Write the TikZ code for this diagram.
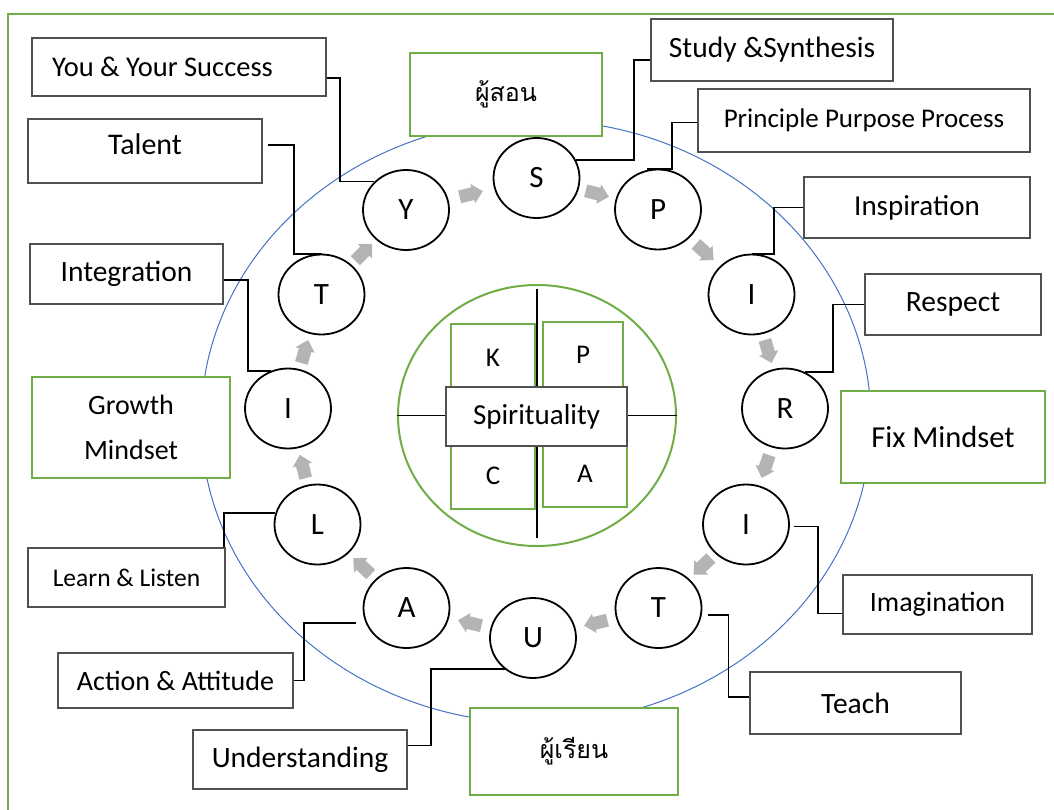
\documentclass[tikz,border=0pt]{standalone}
\usepackage{fontspec}
\setmainfont{Carlito}
\newfontfamily\thaifont[Script=Thai]{Loma}
\usetikzlibrary{shapes.geometric}
\definecolor{grn}{HTML}{70AD47}
\definecolor{blu}{HTML}{4472C4}
\definecolor{bord}{HTML}{505050}
\definecolor{arr}{HTML}{B4B4B4}
\begin{document}
\begin{tikzpicture}[x=1pt,y=-1pt,
  lbl/.style={draw=bord, line width=1.5pt, fill=white, font=\fontsize{29}{34}\selectfont, inner sep=0pt},
  gbox/.style={draw=grn, line width=2pt, fill=white, font=\fontsize{29}{34}\selectfont, inner sep=0pt},
  letter/.style={ellipse, draw=black, line width=1.8pt, minimum width=86pt, minimum height=80pt, inner sep=0pt, fill=white, font=\fontsize{31}{34}\selectfont},
  conn/.style={draw=black, line width=1.8pt},
  garr/.pic={\fill[arr] (-12pt,-6.5pt) -- (1.5pt,-6.5pt) -- (1.5pt,-10pt) -- (12pt,0pt) -- (1.5pt,10pt) -- (1.5pt,6.5pt) -- (-12pt,6.5pt) -- cycle;},
  flow/.style={pos=0.5, sloped, allow upside down},
]
\useasboundingbox (0,0) rectangle (1054,809);
\clip (0,0) rectangle (1054,809);
\draw[grn, line width=2pt] (8,13.5) rectangle (1064,819);

% big blue ellipse
\draw[blu, line width=1pt] (536,421.5) ellipse [x radius=335pt, y radius=301.5pt];

% role boxes
\node[gbox, minimum width=192pt, minimum height=83pt, font=\fontsize{25}{30}\selectfont] (tchr) at (506,94.5) {\thaifont ผู้สอน};
\node[gbox, minimum width=208pt, minimum height=87pt, font=\fontsize{25}{30}\selectfont] (lrnr) at (574,751.5) {\thaifont ผู้เรียน};
\node[gbox, minimum width=198pt, minimum height=101pt, align=center, font=\fontsize{28}{45}\selectfont] (gm) at (131,427.5) {Growth\\Mindset};
\node[gbox, minimum width=204pt, minimum height=92pt, font=\fontsize{30.5}{34}\selectfont] (fm) at (943,437) {Fix Mindset};

% label boxes
\node[lbl, minimum width=294pt, minimum height=58pt, text width=254pt, inner xsep=20pt, align=flush left, font=\fontsize{28.5}{34}\selectfont] (yy) at (179,67) {You \& Your Success};
\node[lbl, minimum width=234pt, inner ysep=0pt, text height=35pt, text depth=29pt, font=\fontsize{30}{34}\selectfont] (tal) at (145,151) {Talent};
\node[lbl, minimum width=193pt, minimum height=60pt, font=\fontsize{29.5}{34}\selectfont] (int) at (126.5,274) {Integration};
\node[lbl, minimum width=197pt, minimum height=59pt, font=\fontsize{25.5}{30}\selectfont] (lrl) at (126.5,577.5) {Learn \& Listen};
\node[lbl, minimum width=235pt, minimum height=55pt, font=\fontsize{28}{32}\selectfont] (act) at (175.5,680.5) {Action \& Attitude};
\node[lbl, minimum width=214pt, minimum height=59pt, font=\fontsize{29.5}{34}\selectfont] (und) at (300,759.5) {Understanding};
\node[lbl, minimum width=211pt, minimum height=62pt, font=\fontsize{29.5}{34}\selectfont] (tch) at (855.5,703) {Teach};
\node[lbl, minimum width=189pt, minimum height=59pt, font=\fontsize{28}{34}\selectfont] (img) at (937.5,604.5) {Imagination};
\node[lbl, minimum width=176pt, minimum height=61pt, font=\fontsize{29.5}{34}\selectfont] (rsp) at (953,304.5) {Respect};
\node[lbl, minimum width=226pt, minimum height=61pt, font=\fontsize{29}{34}\selectfont] (ins) at (917,207.5) {Inspiration};
\node[lbl, minimum width=332pt, minimum height=63pt, font=\fontsize{27}{32}\selectfont] (ppp) at (864,120.5) {Principle Purpose Process};
\node[lbl, minimum width=242pt, minimum height=62pt, font=\fontsize{29.5}{34}\selectfont] (sty) at (772,50) {Study \&Synthesis};

% letter circles
\node[letter] (cY) at (406,210) {Y};
\node[letter] (cS) at (536.5,178) {S};
\node[letter] (cP) at (658,209.5) {P};
\node[letter] (cI1) at (751.5,294.5) {I};
\node[letter] (cR) at (785,408.5) {R};
\node[letter] (cI2) at (746,524.5) {I};
\node[letter] (cT2) at (658.5,608) {T};
\node[letter] (cU) at (533,638) {U};
\node[letter] (cA) at (406.5,608) {A};
\node[letter] (cL) at (317.5,524.5) {L};
\node[letter] (cI3) at (288,408.5) {I};
\node[letter] (cT1) at (321.5,294.5) {T};

% gray flow arrows
\path (cY) -- pic[flow]{garr} (cS);
\path (cS) -- pic[flow]{garr} (cP);
\path (cP) -- pic[flow]{garr} (cI1);
\path (cI1) -- pic[flow]{garr} (cR);
\path (cR) -- pic[flow]{garr} (cI2);
\path (cI2) -- pic[flow]{garr} (cT2);
\path (cT2) -- pic[flow]{garr} (cU);
\path (cU) -- pic[flow]{garr} (cA);
\path (cA) -- pic[flow]{garr} (cL);
\path (cL) -- pic[flow]{garr} (cI3);
\path (cI3) -- pic[flow]{garr} (cT1);
\path (cT1) -- pic[flow]{garr} (cY);

% connectors
\draw[conn] ([yshift=-11pt]yy.east) -- ++(13,0) |- (cY.138);
\draw[conn] ([xshift=5pt,yshift=6pt]tal.east) -- ++(26,0) |- (cT1.north);
\draw[conn] ([yshift=-6pt]int.east) -- ++(24,0) |- (cI3.115);
\draw[conn] ([xshift=-2pt]lrl.north east) |- (cL.165);
\draw[conn] (act.east) -- ++(10,0) |- ([xshift=-10pt]cA.200);
\draw[conn] ([yshift=14pt]und.east) -- ++(23,0) |- (cU.228);
\draw[conn] ([xshift=6pt,yshift=-7pt]cT2.east) -- ++(20,0) |- ([yshift=6pt]tch.west);
\draw[conn] ([xshift=4pt,yshift=-2pt]cI2.east) -- ++(24,0) |- ([yshift=-9pt]img.west);
\draw[conn] (rsp.west) -- ++(-31,0) |- (cR.61);
\draw[conn] (ins.west) -- ++(-29,0) |- (cI1.north);
\draw[conn] ([yshift=-2pt]ppp.west) -- ++(-25,0) |- ([xshift=-11pt]cP.north);
\draw[conn] ([yshift=-10pt]sty.west) -- ++(-16,0) |- (cS.24);

% inner circle
\node[ellipse, draw=grn, line width=2pt, minimum width=278pt, minimum height=261pt] (gc) at (537,415.5) {};
\draw[conn] ([yshift=-5pt]gc.north) -- ([yshift=9pt]gc.south);
\draw[conn] (gc.west) -- (gc.east);
\node[gbox, minimum width=84pt, minimum height=68pt, font=\fontsize{27}{30}\selectfont] (kb) at (493,358) {K};
\node[gbox, minimum width=80pt, minimum height=66pt, font=\fontsize{27}{30}\selectfont] (pb) at (583,355) {P};
\node[gbox, minimum width=84pt, minimum height=66pt, font=\fontsize{27}{30}\selectfont] (cb) at (493,476) {C};
\node[gbox, minimum width=84pt, minimum height=66pt, font=\fontsize{27}{30}\selectfont] (ab) at (585,474) {A};
\node[lbl, minimum width=181pt, minimum height=59pt] (sp) at (536.5,416.5) {Spirituality};
\end{tikzpicture}
\end{document}
